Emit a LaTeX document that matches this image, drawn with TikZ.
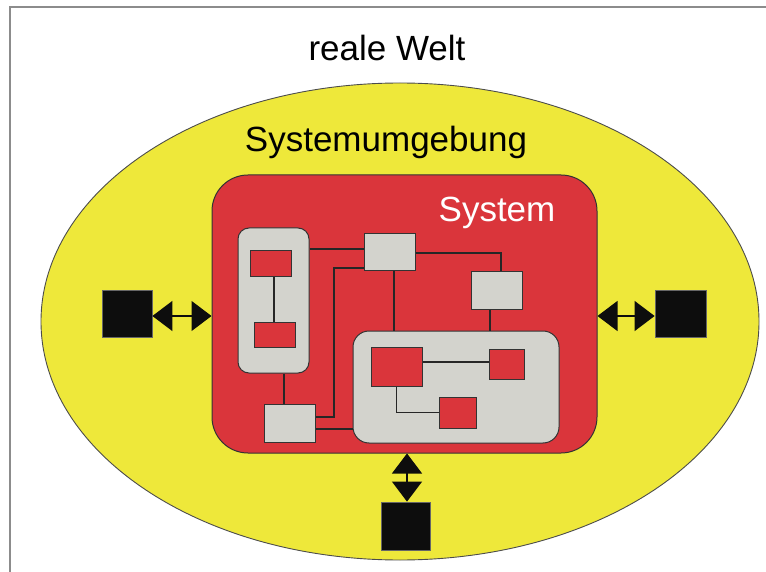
\documentclass[tikz,border=0pt]{standalone}
\usepackage{fontspec}
\setmainfont{Liberation Sans}
\usetikzlibrary{arrows.meta}
\usetikzlibrary{shapes.geometric}
\definecolor{umgelb}{RGB}{238,232,58}
\definecolor{sysrot}{RGB}{218,53,59}
\definecolor{kgrau}{RGB}{211,211,205}
\definecolor{rahmen}{RGB}{140,140,140}

\begin{document}
\begin{tikzpicture}[x=1pt,y=-1pt,
	box/.style={draw=black!80,line width=1pt,fill=kgrau,inner sep=0pt},
	modul/.style={draw=black!80,line width=1pt,fill=sysrot,inner sep=0pt},
	extern/.style={draw=black!60,line width=0.8pt,fill=black!95,inner sep=0pt},
	link/.style={line width=1.1pt,black!85},
	biarrow/.style={line width=1.1pt,black!95,{Triangle[length=20pt,width=30pt]}-{Triangle[length=20pt,width=30pt]}},
	txt/.style={font=\fontsize{35}{42}\selectfont,anchor=base,inner sep=0pt}]
	\useasboundingbox (0,0) rectangle (766,572);
	\draw[rahmen,line width=1.6pt] (766,7) -- (10,7) -- (10,572);
	\node[ellipse,draw=black!70,line width=0.9pt,fill=umgelb,inner sep=0pt,minimum width=718pt,minimum height=477pt] (env) at (400,321.5) {};
	\node[draw=black!80,line width=1pt,fill=sysrot,rounded corners=36pt,inner sep=0pt,minimum width=385pt,minimum height=278pt] (sys) at (404.5,314) {};
	\node[box,rounded corners=11pt,minimum width=71pt,minimum height=145pt] (grpL) at (273.5,300.5) {};
	\node[box,rounded corners=16pt,minimum width=206pt,minimum height=112pt] (grpD) at (456,387) {};
	\node[box,minimum width=51pt,minimum height=37pt] (boxA) at (389.5,252.5) {};
	\node[box,minimum width=51pt,minimum height=37pt] (boxB) at (496.5,290.5) {};
	\node[box,minimum width=51pt,minimum height=38pt] (boxC) at (289.5,423) {};
	\node[modul,minimum width=41pt,minimum height=26pt] (modL1) at (270.5,264) {};
	\node[modul,minimum width=41pt,minimum height=25pt] (modL2) at (274.5,334.5) {};
	\node[modul,minimum width=51pt,minimum height=39pt] (modD1) at (396.5,366.5) {};
	\node[modul,minimum width=35pt,minimum height=30pt] (modD2) at (506.5,364) {};
	\node[modul,minimum width=37pt,minimum height=31pt] (modD3) at (457.5,412.5) {};
	\draw[link] (modL1.south -| 274,0) -- (modL2.north -| 274,0);
	\draw[link] (grpL.east |- 0,249) -- (boxA.west |- 0,249);
	\draw[link] (boxA.west |- 0,268) -| (334,417) -- (boxC.east |- 0,417);
	\draw[link] (boxC.east |- 0,429) -- (grpD.west |- 0,429);
	\draw[link] (grpL.south -| 284,0) -- (boxC.north -| 284,0);
	\draw[link] (boxA.east |- 0,253) -| (501,0 |- boxB.north);
	\draw[link] (boxA.south -| 394,0) -- (grpD.north -| 394,0);
	\draw[link] (boxB.south -| 490,0) -- (grpD.north -| 490,0);
	\draw[link] (modD1.east |- 0,362) -- (modD2.west |- 0,362);
	\draw[link] (modD1.south) |- (modD3.west);
	\node[extern,minimum width=50pt,minimum height=47pt] (extL) at (127,313.5) {};
	\node[extern,minimum width=51pt,minimum height=47pt] (extR) at (680.5,313.5) {};
	\node[extern,minimum width=49pt,minimum height=48pt] (extB) at (405.5,526) {};
	\draw[biarrow] (extL.east |- 0,316) -- (sys.west |- 0,316);
	\draw[biarrow] (sys.east |- 0,316) -- (extR.west |- 0,316);
	\draw[biarrow] (sys.south -| 407,0) -- (extB.north -| 407,0);
	\node[txt] (welt) at (387,61) {reale Welt};
	\node[txt] (umgebung) at (386,152) {Systemumgebung};
	\node[txt,white] (sysname) at (497,222) {System};
\end{tikzpicture}
\end{document}
